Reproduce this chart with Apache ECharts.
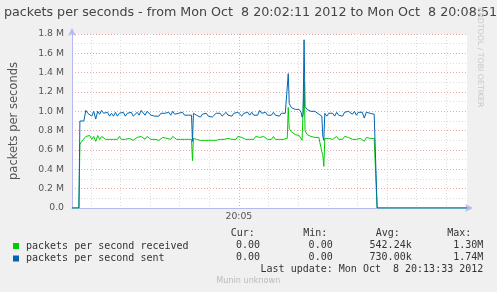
<!DOCTYPE html>
<html>
<head>
<meta charset="utf-8">
<script src="https://cdn.jsdelivr.net/npm/echarts@6/dist/echarts.min.js"></script>
<style>
html,body{margin:0;padding:0;background:#f0f0f0;}
#c{width:497px;height:292px;}
</style>
</head>
<body>
<div id="c"></div>
<script>
// seconds since 20:00:00 at which the window starts (20:02:11) and ends (20:08:51)
const START = 131;
const END = 531;
// sample times, seconds after START
const times = [0,7,8,10,12,14,16,18,20,22,24,26,28,30,32,34,36,38,40,42,44,46,48,50,52,54,56,58,60,62,64,66,68,70,72,74,76,78,80,82,84,86,88,90,92,94,96,98,100,102,104,106,108,110,112,114,116,118,120,121,122,123,124,126,128,130,132,134,136,138,140,142,144,146,148,150,152,154,156,158,160,162,164,166,168,170,172,174,176,178,180,182,184,186,188,190,192,194,196,198,200,202,204,206,208,210,212,214,216,218,219,220,222,224,226,228,230,232,233,234,235,236,238,240,242,244,246,248,250,252,253,254,255,256,258,260,262,264,266,268,270,272,274,276,278,280,282,284,286,288,290,292,294,296,298,300,302,304,306,307,308,309,400];
// packets per second received (millions)
const received = [0,0,0.66,0.69,0.68,
  0.74,0.72,0.75,0.71,0.74,0.69,0.75,0.71,0.74,0.72,0.71,0.73,0.71,0.73,0.71,0.73,0.71,0.74,0.71,0.73,0.71,0.73,0.72,0.73,0.70,0.72,0.73,0.71,0.74,0.72,0.71,0.74,0.72,0.71,0.73,0.71,0.72,0.70,0.72,0.73,0.71,0.72,0.73,0.71,0.74,0.72,0.71,0.73,0.71,0.73,0.71,0.73,0.71,0.72,
  0.71,0.49,0.72,0.73,
  0.71,0.73,0.70,0.72,0.70,0.72,0.70,0.72,0.70,0.72,0.70,0.72,0.71,0.73,0.71,0.70,0.72,0.73,0.71,0.73,0.71,0.74,0.72,0.73,0.74,0.71,0.73,0.71,0.73,0.71,0.74,0.72,0.73,0.71,0.74,0.72,0.71,0.73,0.71,0.74,0.71,0.73,0.71,0.73,0.71,0.73,0.72,
  1.04,0.82,0.79,0.77,0.76,0.75,0.75,0.74,0.70,0.72,1.30,0.80,0.76,0.75,0.74,0.74,0.73,0.72,0.73,0.71,0.58,0.55,0.43,0.72,
  0.70,0.72,0.73,0.71,0.72,0.74,0.71,0.73,0.71,0.74,0.72,0.73,0.74,0.71,0.73,0.71,0.73,0.72,0.73,0.69,0.73,0.71,0.72,0.70,0.72,
  0.70,0.70,0,0];
// packets per second sent (millions)
const sent = [0,0,0.90,0.91,0.90,
  1.01,0.98,1.00,0.95,1.00,0.92,1.00,0.97,1.01,0.98,0.96,0.99,0.95,0.98,0.95,0.99,0.95,0.98,0.96,0.99,0.95,0.98,0.96,0.99,0.95,0.97,0.99,0.96,1.01,0.99,0.96,1.00,0.98,0.96,0.98,0.95,0.97,0.95,0.98,0.96,0.98,0.96,0.99,0.96,1.00,0.97,0.95,0.98,0.96,0.99,0.96,0.98,0.96,0.97,
  0.96,0.69,0.98,0.98,
  0.96,0.98,0.94,0.97,0.95,0.98,0.95,0.97,0.94,0.96,0.98,0.96,0.98,0.95,0.97,0.99,0.96,0.98,0.95,0.98,0.96,0.99,0.97,0.95,0.98,0.96,0.99,0.96,0.99,0.96,0.98,0.96,1.01,0.98,0.96,0.99,0.96,0.98,0.96,0.99,0.96,0.98,0.95,0.98,0.96,0.98,0.96,
  1.39,1.08,1.04,1.03,1.02,1.01,1.02,0.99,0.94,0.97,1.74,1.05,1.02,1.01,1.00,0.99,1.00,0.98,0.97,0.96,0.95,0.74,0.70,0.98,
  0.95,0.98,0.96,0.98,0.95,0.99,0.96,0.98,0.95,0.99,0.97,1.00,0.98,0.97,1.00,0.96,0.99,0.97,0.99,0.93,0.99,0.97,0.98,0.96,0.97,
  0.96,0.95,0,0];
// x tick positions (every 30 s) and the labelled time
const xTicks = [150,180,210,240,270,300,330,360,390,420,450,480,510];
const xLabelValues = [300];
const xLabelTexts = {300: '20:05'};
const seriesNames = ['packets per second received', 'packets per second sent'];
const colors = ['#00cc00', '#0066b3'];
const statHeaders = ['Cur:', 'Min:', 'Avg:', 'Max:'];
const statsReceived = ['0.00', '0.00', '542.24k', '1.30M'];
const statsSent = ['0.00', '0.00', '730.00k', '1.74M'];
const titleText = 'packets per seconds - from Mon Oct  8 20:02:11 2012 to Mon Oct  8 20:08:51';
const yAxisName = 'packets per seconds';
const lastUpdate = 'Last update: Mon Oct  8 20:13:33 2012';
const footer = 'Munin unknown';
const watermark = 'RRDTOOL / TOBI OETIKER';

const mono = 'DejaVu Sans Mono';
const sans = 'DejaVu Sans';
const GRID_MINOR = '#dcdcdc';
const GRID_MAJOR = '#e8a8a8';

const chart = echarts.init(document.getElementById('c'), null, {renderer: 'canvas'});

const xSplitColors = xTicks.map(v => v === 300 ? GRID_MAJOR : GRID_MINOR);
const statCols = [260, 332.7, 411.7, 483.3];
const headerLeft = [230.7, 303.3, 375.7, 447.3];

const graphic = [];
graphic.push({type:'text', left: 4, top: 6, style:{text: titleText, font: '12.7px ' + sans, fill:'#444'}});
graphic.push({type:'text', x: 484, y: 7, rotation: -Math.PI/2, style:{text: watermark, font: '7.8px ' + sans, fill:'#c8c8c8', textVerticalAlign:'top'}});
statHeaders.forEach((h,i)=>graphic.push({type:'text', x: headerLeft[i], y: 233.7, style:{text:h, font:'10px '+mono, fill:'#333', textVerticalAlign:'middle'}}));
[statsReceived, statsSent].forEach((row,r)=>row.forEach((v,i)=>graphic.push({type:'text', x: statCols[i], y: 245.5 + r*12.2, style:{text:v, font:'10px '+mono, fill:'#333', textAlign:'right', textVerticalAlign:'middle'}})));
graphic.push({type:'text', x: 483.3, y: 269.7, style:{text:lastUpdate, font:'10px '+mono, fill:'#333', textAlign:'right', textVerticalAlign:'middle'}});
graphic.push({type:'text', x: 248.3, y: 281, style:{text:footer, font:'8.1px '+sans, fill:'#bbbbbb', textAlign:'center', textVerticalAlign:'middle'}});

chart.setOption({
  animation: false,
  backgroundColor: '#f0f0f0',
  grid: {left: 67, right: 30, top: 34, bottom: 84, show: true, backgroundColor: '#ffffff', borderWidth: 0},
  legend: {
    left: 13, top: 240.5, orient: 'vertical', itemGap: 1.5, itemWidth: 6, itemHeight: 6, icon: 'rect',
    textStyle: {fontFamily: mono, fontSize: 10, color: '#333', lineHeight: 11, padding: [0,0,0,2]},
    padding: 0,
    data: seriesNames
  },
  xAxis: {
    type: 'value', min: START, max: END,
    axisLine: {show: true, lineStyle: {color: '#b8b8f0', width: 1}, symbol: ['none','arrow'], symbolSize: [6, 8], symbolOffset: [0, 6]},
    axisTick: {show: false, customValues: xTicks},
    axisLabel: {customValues: xLabelValues, formatter: v => xLabelTexts[v] || '', fontFamily: sans, fontSize: 9.3, color: '#555', margin: 4},
    splitLine: {show: true, lineStyle: {type: [1,2], color: xSplitColors, width: 1}}
  },
  yAxis: {
    type: 'value', min: 0, max: 1.8, interval: 0.1,
    name: yAxisName, nameLocation: 'middle', nameGap: 52, nameRotate: 90,
    nameTextStyle: {fontFamily: sans, fontSize: 11.5, color: '#555'},
    axisLine: {show: true, lineStyle: {color: '#b8b8f0', width: 1}, symbol: ['none','arrow'], symbolSize: [6, 8], symbolOffset: [0, 6]},
    axisTick: {show: false},
    axisLabel: {fontFamily: sans, fontSize: 9.3, color: '#555', margin: 8,
      formatter: v => { const k = Math.round(v*10); if (k % 2) return ''; return k === 0 ? '0.0' : (k/10).toFixed(1) + ' M'; }},
    splitLine: {show: true, lineStyle: {type: [1,2], color: [GRID_MAJOR, GRID_MINOR], width: 1}}
  },
  series: [0,1].map(s => ({
    name: seriesNames[s], type: 'line', showSymbol: false, symbol: 'none',
    color: colors[s], lineStyle: {width: 1, color: colors[s]},
    data: times.map((t,i) => [START + t, (s === 0 ? received : sent)[i]]),
    z: 2 + s
  })),
  graphic: graphic
});
</script>
</body>
</html>
